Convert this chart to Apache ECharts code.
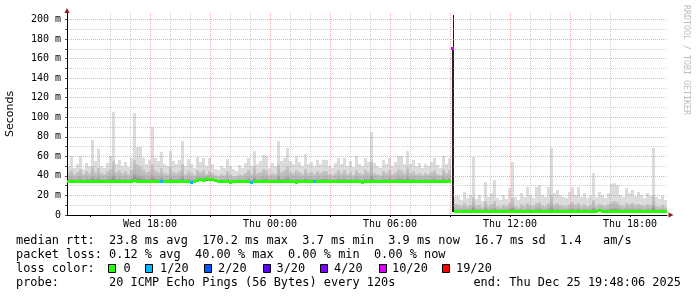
<!DOCTYPE html>
<html><head><meta charset="utf-8">
<script src="https://cdn.jsdelivr.net/npm/echarts@6/dist/echarts.min.js"></script>
<style>html,body{margin:0;padding:0;background:#fff}#c{width:697px;height:297px}</style>
</head><body><div id="c"></div>
<script>
// ---- time base (hours since Wed 00:00) ----
const START_HOUR = 13.85;   // first bin start
const BIN_HOURS = 0.15;     // 9 minutes per bin

// ---- smoke: max ping per bin (ms) ----
const smokeMax = [
50,60,48,52,60,47,53,50,77,55,
67,50,48,53,60,105,52,56,50,54,
49,58,104,70,70,58,52,56,90,58,
55,64,52,50,65,55,52,56,76,50,
57,52,48,59,54,58,50,58,52,47,
46,50,48,57,50,47,45,51,48,53,
58,50,65,52,55,61,60,48,53,50,
76,55,58,69,55,52,60,54,50,62,
52,54,50,56,52,56,56,50,48,53,
58,52,58,50,55,49,60,52,50,58,
54,85,53,50,48,56,52,58,50,54,
60,60,52,65,52,56,50,53,48,52,
50,54,58,51,48,60,52,58,
205,
19,19,15,24,17,20,59,16,20,14,34,
18,22,36,17,15,20,16,28,54,18,
15,22,18,29,20,17,29,31,20,18,
29,69,22,26,20,18,17,24,29,20,
29,18,22,17,19,43,18,24,20,17,
22,32,33,31,20,18,28,22,26,19,
24,20,17,22,19,69,18,16,19,15
];
// ---- smoke: upper edge of the dense (darker) band per bin (ms) ----
const smokeMid = [
44,46,42,44,47,42,45,43,50,44,
48,43,42,45,47,55,44,46,43,45,
42,46,56,52,50,47,44,45,52,46,
44,48,43,42,49,44,43,45,52,42,
45,43,41,46,44,46,42,45,43,41,
40,42,41,45,42,40,40,42,41,43,
46,42,49,43,44,47,46,41,43,42,
52,44,46,50,44,43,46,44,42,47,
43,44,42,45,43,45,45,42,41,43,
46,43,46,42,44,41,46,43,42,46,
44,55,43,42,41,45,43,46,42,44,
47,46,43,49,43,45,42,43,41,43,
42,44,46,42,41,47,43,46,
170,
11,10,9,12,9,10,18,9,10,8,14,
9,11,14,9,8,10,9,12,17,9,
8,11,9,12,10,9,12,13,10,9,
12,20,11,12,10,9,9,11,13,10,
12,9,11,9,10,15,9,11,10,9,
11,13,14,13,10,9,12,11,12,10,
11,10,9,11,10,20,9,8,10,8
];
// ---- smoke: min ping per bin (ms) ----
const smokeMin = [
33,33,32.5,33,33,33,32.5,33,33,33,
33,33,33,32.5,33,33,33,33,33,33,
33,33,33.5,33,33,33,33,33,33,33,
33,32.5,33,33,33,33,33,33,33,32.5,
33,32.5,32.5,34,34.5,33.5,35,34.5,34.5,34,
32.5,32.5,32.5,32.5,32,32.5,32.5,32.5,32.5,32.5,
32.5,32,32.5,32.5,32.5,32.5,32.5,32.5,32.5,32.5,
32.5,32.5,32.5,32.5,32.5,32.5,32,32.5,32.5,32.5,
32.5,32.5,32.5,32.5,32.5,32.5,32.5,32.5,32.5,32.5,
32.5,32.5,32.5,32.5,32.5,32.5,32.5,32.5,32,32.5,
32.5,32.5,32.5,32.5,32.5,32.5,32.5,32.5,32.5,32.5,
32.5,32.5,32.5,32.5,32.5,32.5,32.5,32.5,32.5,32.5,
32.5,32.5,32.5,32.5,32.5,32.5,32.5,32.5,
3,
3,3,3,2.5,3,3,3,3,3,2.5,3,
3,3,3,3,3,3,3,3,3,3,
3,3,2.5,3,3,3,3,3,3,3,
3,3,3,3,3,3,3,3,3,3,
3,3,3,3,3,3,3,3.5,3,3,
3,3,3,3,3,3,3,3,3,3,
3,3,3,3,3,3,3,3,3,3
];
// ---- median rtt per bin (ms) ----
const medianRtt = [
34.5,34.5,34.0,34.5,34.5,34.5,34.0,34.5,34.5,34.5,
34.5,34.5,34.5,34.0,34.5,34.5,34.5,34.5,34.5,34.5,
34.5,34.5,35.0,34.5,34.5,34.5,34.5,34.5,34.5,34.5,
34.5,34.0,34.5,34.5,34.5,34.5,34.5,34.5,34.5,34.0,
34.5,33.5,34.0,35.5,36.5,35.0,37.0,36.0,36.5,35.5,
34.0,34.0,34.0,34.0,33.5,34.0,34.0,34.0,34.0,34.0,
34.0,33.5,34.0,34.0,34.0,34.0,34.0,34.0,34.0,34.0,
34.0,34.0,34.0,34.0,34.0,34.0,33.5,34.0,34.0,34.0,
34.0,34.0,34.0,34.0,34.0,34.0,34.0,34.0,34.0,34.0,
34.0,34.0,34.0,34.0,34.0,34.0,34.0,34.0,33.5,34.0,
34.0,34.0,34.0,34.0,34.0,34.0,34.0,34.0,34.0,34.0,
34.0,34.0,34.0,34.0,34.0,34.0,34.0,34.0,34.0,34.0,
34.0,34.0,34.0,34.0,34.0,34.0,34.0,34.0,
170.2,
4.0,4.0,4.0,3.5,4.0,4.0,4.0,4.0,4.0,3.5,4.0,
4.0,4.0,4.0,4.0,4.0,4.0,4.0,4.0,4.0,4.0,
4.0,4.0,3.5,4.0,4.0,4.0,4.0,4.0,4.0,4.0,
4.0,4.0,4.0,4.0,4.0,4.0,4.0,4.0,4.0,4.0,
4.0,4.0,4.0,4.0,4.0,4.0,4.0,4.5,4.0,4.0,
4.0,4.0,4.0,4.0,4.0,4.0,4.0,4.0,4.0,4.0,
4.0,4.0,4.0,4.0,4.0,4.0,4.0,4.0,3.9,3.9
];
// ---- packet loss (bins with losses, lost pings out of 20) ----
const lossBins = [31, 41, 61, 82, 128];
const lossCounts = [1, 1, 1, 1, 10];

// ---- loss colour legend ----
const lossLevels = [0, 1, 2, 3, 4, 10, 19];
const lossLabels = ['0', '1/20', '2/20', '3/20', '4/20', '10/20', '19/20'];
const lossColors = ['#26ff00', '#00b8ff', '#0059ff', '#5e00ff', '#7e00ff', '#dd00ff', '#ff0000'];

// ---- axis ticks ----
const xTickHours = [18, 24, 30, 36, 42];
const xTickLabels = ['Wed 18:00', 'Thu 00:00', 'Thu 06:00', 'Thu 12:00', 'Thu 18:00'];
const majorGridHours = [15, 18, 21, 24, 27, 30, 33, 36, 39, 42];
const minorGridHours = [14, 16, 17, 19, 20, 22, 23, 25, 26, 28, 29, 31, 32, 34, 35, 37, 38, 40, 41, 43];

// ---- texts ----
const statLines = [
  'median rtt:  23.8 ms avg  170.2 ms max  3.7 ms min  3.9 ms now  16.7 ms sd  1.4   am/s',
  'packet loss: 0.12 % avg  40.00 % max  0.00 % min  0.00 % now'
];
const lossTitle = 'loss color:';
const probeText = 'probe:       20 ICMP Echo Pings (56 Bytes) every 120s';
const endText = 'end: Thu Dec 25 19:48:06 2025';
const yAxisName = 'Seconds';
const creditText = 'RRDTOOL / TOBI OETIKER';

// ---- layout (pixels) ----
const SWATCH_X = [108.5, 145.5, 204.5, 263.5, 320.5, 379.5, 442.5];
const SWATCH_TEXT_X = [123.5, 160, 218, 276.5, 334, 392, 456];
const MONO = '"DejaVu Sans Mono", monospace';
const LEGEND_FONT = '11.9px ' + MONO;

const lossAt = smokeMax.map(() => 0);
lossBins.forEach((b, k) => { lossAt[b] = lossCounts[k]; });

const smokeData = smokeMax.map((mx, i) => [START_HOUR + i * BIN_HOURS, smokeMin[i], smokeMid[i], mx]);
const medianData = medianRtt.map((m, i) => [START_HOUR + i * BIN_HOURS, m, lossAt[i]]);

function lossColor(n) {
  let c = lossColors[0];
  lossLevels.forEach((lv, k) => { if (n >= lv) c = lossColors[k]; });
  return c;
}

const chart = echarts.init(document.getElementById('c'), null, { renderer: 'canvas' });
const MAJOR = 'rgba(240,110,110,0.55)';
const MINOR = 'rgba(170,170,170,0.55)';

const graphics = [];
statLines.forEach((s, k) => graphics.push({
  type: 'text', x: 16, y: 241 + 14 * k, silent: true,
  style: { text: s, font: LEGEND_FONT, fill: '#000', align: 'left', verticalAlign: 'middle' }
}));
graphics.push({ type: 'text', x: 16, y: 269, silent: true,
  style: { text: lossTitle, font: LEGEND_FONT, fill: '#000', align: 'left', verticalAlign: 'middle' } });
lossLabels.forEach((lab, k) => {
  graphics.push({ type: 'rect', silent: true, shape: { x: SWATCH_X[k], y: 264.5, width: 7, height: 8 },
    style: { fill: lossColors[k], stroke: '#000', lineWidth: 1 } });
  graphics.push({ type: 'text', x: SWATCH_TEXT_X[k], y: 269, silent: true,
    style: { text: lab, font: LEGEND_FONT, fill: '#000', align: 'left', verticalAlign: 'middle' } });
});
graphics.push({ type: 'text', x: 16, y: 283, silent: true,
  style: { text: probeText, font: LEGEND_FONT, fill: '#000', align: 'left', verticalAlign: 'middle' } });
graphics.push({ type: 'text', x: 681, y: 283, silent: true,
  style: { text: endText, font: LEGEND_FONT, fill: '#000', align: 'right', verticalAlign: 'middle' } });
graphics.push({ type: 'text', x: 686, y: 5, rotation: -Math.PI / 2, silent: true,
  style: { text: creditText, font: '8.3px ' + MONO, fill: '#bdbdbd', align: 'left', verticalAlign: 'middle' } });

chart.setOption({
  animation: false,
  backgroundColor: '#ffffff',
  grid: { left: 67, right: 30, top: 13, bottom: 82, containLabel: false, outerBoundsMode: 'none' },
  xAxis: [
    {
      type: 'value', min: START_HOUR, max: START_HOUR + 200 * BIN_HOURS, position: 'bottom', z: 3,
      axisLine: { show: true, onZero: false, lineStyle: { color: '#000', width: 1 } },
      axisTick: { show: true, length: 2, customValues: majorGridHours, lineStyle: { color: '#000' } },
      axisLabel: {
        show: true, customValues: xTickHours, margin: 4, color: '#000',
        fontFamily: 'DejaVu Sans Mono', fontSize: 10,
        formatter: v => { const k = xTickHours.findIndex(h => Math.abs(h - v) < 1e-6); return k >= 0 ? xTickLabels[k] : ''; }
      },
      splitLine: { show: true, showMinLine: false, showMaxLine: false, lineStyle: { color: MAJOR, type: [1, 1], width: 1 } }
    },
    {
      type: 'value', min: START_HOUR, max: START_HOUR + 200 * BIN_HOURS, position: 'bottom', z: 3,
      axisLine: { show: true, onZero: false, symbol: ['none', 'triangle'], symbolSize: [5, 5], symbolOffset: [0, 4],
        lineStyle: { color: '#8b1a1a', opacity: 0 } },
      axisTick: { show: false, customValues: minorGridHours },
      axisLabel: { show: false },
      splitLine: { show: true, showMinLine: false, showMaxLine: false, lineStyle: { color: MINOR, type: [1, 1], width: 1 } }
    }
  ],
  yAxis: [
    {
      type: 'value', min: 0, max: 206.6, interval: 10, position: 'left', z: 3,
      name: yAxisName, nameLocation: 'middle', nameRotate: 90, nameGap: 51,
      nameTextStyle: { fontFamily: 'DejaVu Sans', fontSize: 11, color: '#000' },
      axisLine: { show: true, onZero: false, lineStyle: { color: '#000', width: 1 } },
      axisTick: { show: true, length: 2, lineStyle: { color: '#555' } },
      axisLabel: {
        show: true, margin: 6, color: '#000', fontFamily: 'DejaVu Sans Mono', fontSize: 10, showMaxLabel: false,
        formatter: v => (Math.abs(v % 20) < 1e-6 ? (v === 0 ? '0' : v + ' m') : '')
      },
      splitLine: { show: true, showMinLine: true, showMaxLine: false,
        lineStyle: { color: [MAJOR, MINOR], type: [1, 1], width: 1 } }
    },
    {
      type: 'value', min: 0, max: 206.6, position: 'left', z: 3,
      axisLine: { show: true, onZero: false, symbol: ['none', 'triangle'], symbolSize: [5, 5], symbolOffset: [0, 2.5],
        lineStyle: { color: '#8b1a1a', opacity: 0 } },
      axisTick: { show: false }, axisLabel: { show: false }, splitLine: { show: false }
    }
  ],
  series: [
    {
      type: 'custom', name: 'smoke', xAxisIndex: 0, yAxisIndex: 0, z: 2, silent: true,
      data: smokeData, encode: { x: 0, y: [1, 2, 3] },
      renderItem: (params, api) => {
        const t = api.value(0), lo = api.value(1), mid = api.value(2), hi = api.value(3);
        const a = api.coord([t, hi]), b = api.coord([t + BIN_HOURS, mid]), c = api.coord([t, lo]);
        const x0 = Math.round(a[0]), x1 = Math.round(b[0]);
        const yHi = Math.round(a[1]), yMid = Math.round(b[1]), yLo = Math.round(c[1]);
        if (hi - lo > 100) {
          return { type: 'group', children: [
            { type: 'rect', shape: { x: x0 + 2, y: yHi, width: 1, height: yMid - yHi }, style: { fill: '#1a1a1a' } },
            { type: 'rect', shape: { x: x0 + 1, y: yMid, width: 2, height: yLo - yMid }, style: { fill: '#222' } }
          ] };
        }
        return { type: 'group', children: [
          { type: 'rect', shape: { x: x0, y: yHi, width: x1 - x0, height: yMid - yHi }, style: { fill: '#dcdcdc' } },
          { type: 'rect', shape: { x: x0, y: yMid, width: x1 - x0, height: yLo - yMid },
            style: { fill: new echarts.graphic.LinearGradient(0, 0, 0, 1, [
              { offset: 0, color: '#c8c8c8' }, { offset: 0.6, color: '#b4b4b4' }, { offset: 1, color: '#7a7a7a' }]) } }
        ] };
      }
    },
    {
      type: 'custom', name: 'median', xAxisIndex: 0, yAxisIndex: 0, z: 4, silent: true,
      data: medianData, encode: { x: 0, y: 1 },
      renderItem: (params, api) => {
        const t = api.value(0), m = api.value(1), n = api.value(2);
        const p = api.coord([t, m]), q = api.coord([t + BIN_HOURS, m]);
        const x0 = Math.round(p[0]), x1 = Math.round(q[0]);
        return { type: 'rect', shape: { x: x0, y: Math.round(p[1] - 1.5), width: x1 - x0, height: 3 },
          style: { fill: lossColor(n) } };
      }
    }
  ],
  graphic: graphics
});
</script>
</body></html>
